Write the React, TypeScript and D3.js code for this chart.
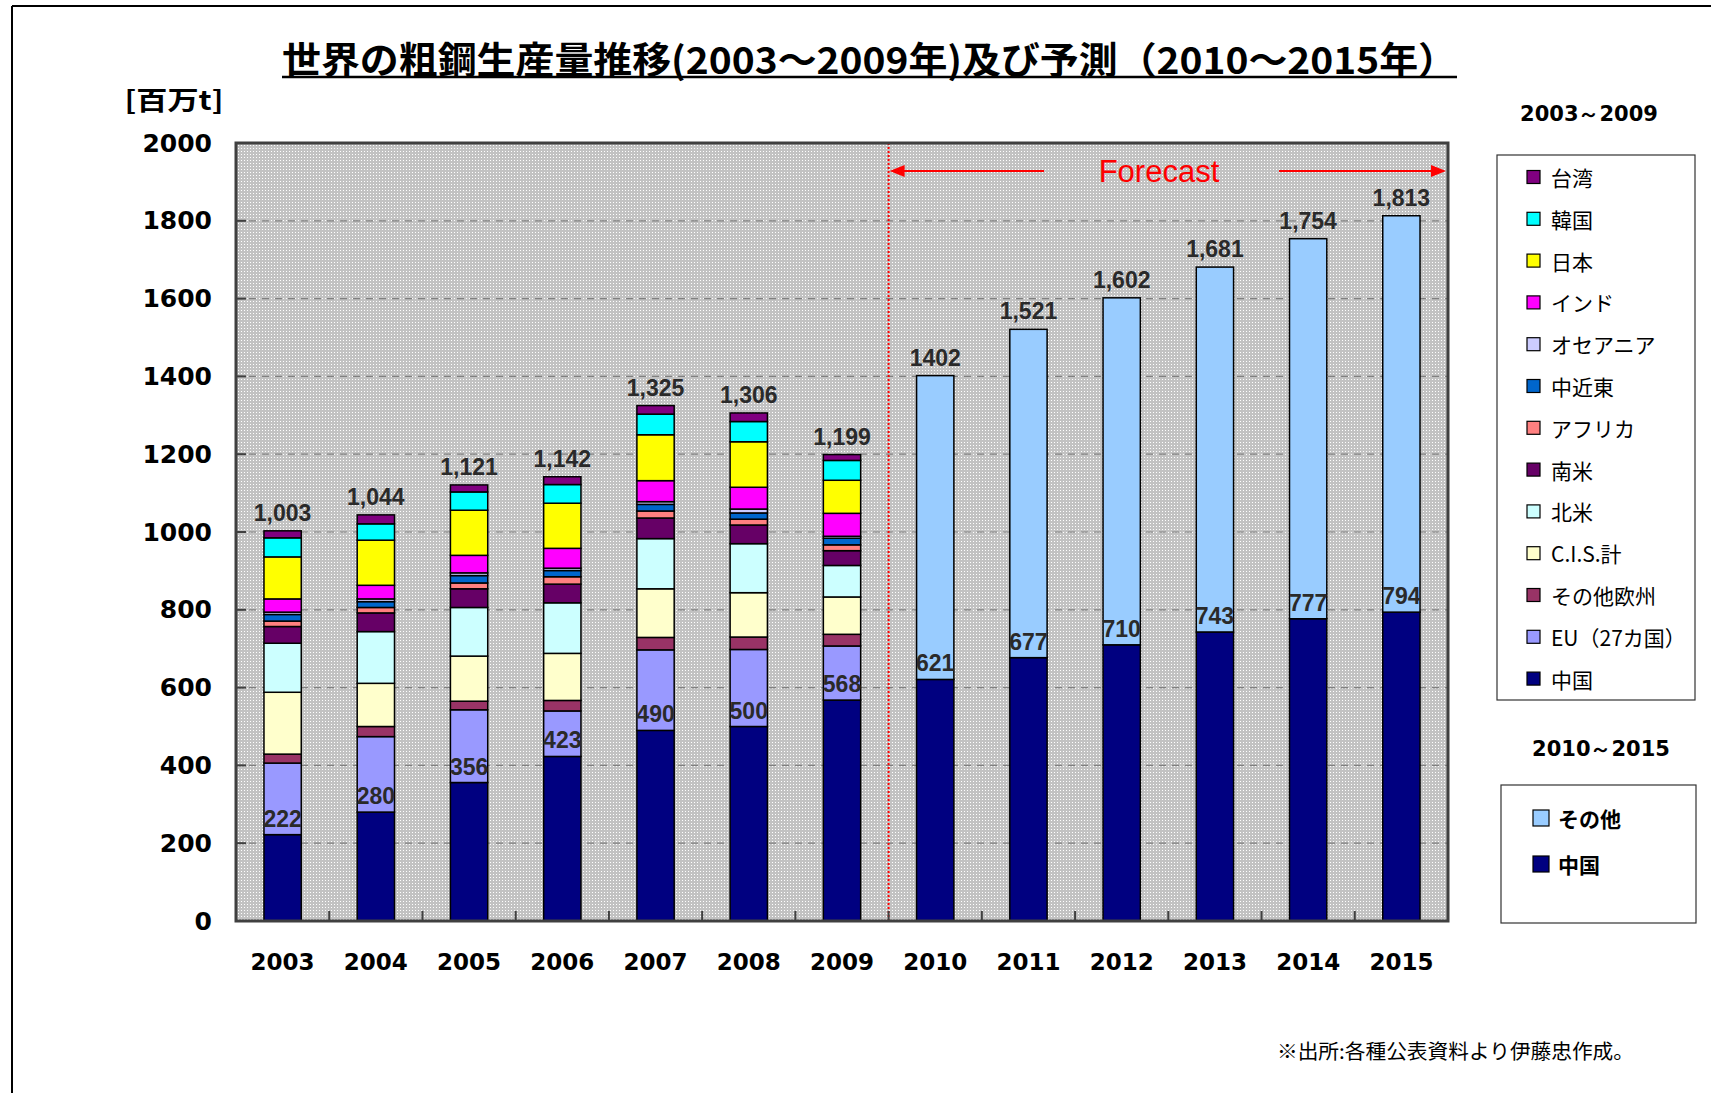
import React from 'react';
import * as d3 from 'd3';

// ---- data ----
const years = ['2003', '2004', '2005', '2006', '2007', '2008', '2009', '2010', '2011', '2012', '2013', '2014', '2015'];
const histYears = ['2003', '2004', '2005', '2006', '2007', '2008', '2009'];
const forecastYears = ['2010', '2011', '2012', '2013', '2014', '2015'];

// 2003-2009 stacked (bottom → top)
const china = [222, 280, 356, 423, 490, 500, 568];
const eu27 = [184, 194, 187, 117, 207, 198, 139];
const otherEurope = [23, 26, 22, 27, 32, 32, 30];
const cis = [159, 111, 116, 121, 125, 114, 96];
const northAmerica = [126, 133, 125, 130, 129, 126, 81];
const southAmerica = [43, 48, 48, 48, 53, 48, 38];
const africa = [14, 14, 15, 19, 18, 15, 15];
const middleEast = [17, 15, 19, 16, 17, 16, 17];
const oceania = [6, 7, 7, 6, 7, 10, 5];
const india = [34, 35, 45, 51, 54, 56, 59];
const japan = [108, 116, 116, 116, 118, 117, 85];
const korea = [49, 42, 47, 48, 53, 52, 51];
const taiwan = [18, 23, 18, 20, 22, 22, 15];

// 2010-2015 forecast
const forecastChina = [621, 677, 710, 743, 777, 794];
const forecastTotal = [1402, 1521, 1602, 1681, 1754, 1813];

const totalLabels = ['1,003', '1,044', '1,121', '1,142', '1,325', '1,306', '1,199', '1402', '1,521', '1,602', '1,681', '1,754', '1,813'];
const chinaLabels = ['222', '280', '356', '423', '490', '500', '568', '621', '677', '710', '743', '777', '794'];
const yTicks = [0, 200, 400, 600, 800, 1000, 1200, 1400, 1600, 1800, 2000];

const histKeys = ['中国', 'EU（27カ国）', 'その他欧州', 'C.I.S.計', '北米', '南米', 'アフリカ', '中近東', 'オセアニア', 'インド', '日本', '韓国', '台湾'];
const histSeries = [china, eu27, otherEurope, cis, northAmerica, southAmerica, africa, middleEast, oceania, india, japan, korea, taiwan];
const histColors = ['#000080', '#9999FF', '#993366', '#FFFFCC', '#CCFFFF', '#660066', '#FF8080', '#0066CC', '#CCCCFF', '#FF00FF', '#FFFF00', '#00FFFF', '#800080'];

const fcKeys = ['中国', 'その他'];
const fcColors = ['#000080', '#99CCFF'];

const TITLE = '世界の粗鋼生産量推移(2003～2009年)及び予測（2010～2015年）';

export default function App() {
  const W = 1711, H = 1093;
  const left = 236, right = 1448, top = 143, bottom = 921;
  const x = d3.scaleBand<string>().domain(years).range([left, right]).padding(0);
  const y = d3.scaleLinear().domain([0, 2000]).range([bottom, top]);
  const bw = x.bandwidth();
  const barW = bw * 0.4;
  const bx = (yr: string) => (x(yr) as number) + (bw - barW) / 2;
  const cx = (yr: string) => (x(yr) as number) + bw / 2;

  const histRows = histYears.map((yr, i) => {
    const r: any = { year: yr };
    histKeys.forEach((k, j) => (r[k] = histSeries[j][i]));
    return r;
  });
  const histStack = d3.stack<any>().keys(histKeys)(histRows);

  const fcRows = forecastYears.map((yr, i) => ({ year: yr, '中国': forecastChina[i], 'その他': forecastTotal[i] - forecastChina[i] }));
  const fcStack = d3.stack<any>().keys(fcKeys)(fcRows as any);

  const totals = [...histYears.map((_, i) => histSeries.reduce((s, a) => s + a[i], 0)), ...forecastTotal];
  const chinaAll = [...china, ...forecastChina];

  const divX = x('2010') as number;
  const arrowY = 171;
  const numFont = '"DejaVu Sans", sans-serif';
  const lblFont = '"Liberation Sans", Arial, sans-serif';
  const jpFont = '"Noto Sans CJK JP", sans-serif';

  const legend1 = histKeys.map((k, i) => ({ k, c: histColors[i] })).reverse();
  const legend2 = fcKeys.map((k, i) => ({ k, c: fcColors[i] })).reverse();

  return (
    <svg width={W} height={H} style={{ position: 'absolute', left: 0, top: 0, background: '#fff' }}>
      <defs>
        <pattern id="dots" width={3} height={3} patternUnits="userSpaceOnUse">
          <rect width={3} height={3} fill="#c2c2c2" />
          <rect x={1} y={1} width={1} height={1} fill="#ffffff" />
        </pattern>
      </defs>
      {/* page frame */}
      <line x1={12} y1={6} x2={W} y2={6} stroke="#000" strokeWidth={2} />
      <line x1={12} y1={6} x2={12} y2={H} stroke="#000" strokeWidth={2} />

      {/* title */}
      <text x={(282 + 1457) / 2} y={58} textAnchor="middle" dominantBaseline="central" fontFamily={jpFont} fontWeight="bold" fontSize={37} textLength={1175} lengthAdjust="spacingAndGlyphs" fill="#000">{TITLE}</text>
      <line x1={282} x2={1457} y1={77} y2={77} stroke="#000" strokeWidth={2.5} />
      <text x={174} y={98} textAnchor="middle" dominantBaseline="central" fontFamily={jpFont} fontWeight="bold" fontSize={26} textLength={99} lengthAdjust="spacingAndGlyphs" fill="#000">[百万t]</text>

      {/* plot background */}
      <rect x={left} y={top} width={right - left} height={bottom - top} fill="url(#dots)" />
      {yTicks.filter(v => v > 0 && v < 2000).map(v => (
        <line key={'g' + v} x1={left} x2={right} y1={y(v)} y2={y(v)} stroke="#808080" strokeWidth={1.2} strokeDasharray="7,6" />
      ))}

      {/* historical stacked bars */}
      {histStack.map((s, si) => (
        <g key={'h' + si} fill={histColors[si]} stroke="#000" strokeWidth={1.5}>
          {s.map((d: any) => (
            <rect key={d.data.year} x={bx(d.data.year)} y={y(d[1])} width={barW} height={y(d[0]) - y(d[1])} />
          ))}
        </g>
      ))}
      {/* forecast stacked bars */}
      {fcStack.map((s, si) => (
        <g key={'f' + si} fill={fcColors[si]} stroke="#000" strokeWidth={1.5}>
          {s.map((d: any) => (
            <rect key={d.data.year} x={bx(d.data.year)} y={y(d[1])} width={barW} height={y(d[0]) - y(d[1])} />
          ))}
        </g>
      ))}

      {/* forecast divider */}
      <line x1={divX} x2={divX} y1={top} y2={bottom} stroke="#ff0000" strokeWidth={2} strokeDasharray="2,2" />
      <line x1={divX + 14} x2={1044} y1={arrowY} y2={arrowY} stroke="#ff0000" strokeWidth={2} />
      <path d={`M${divX + 1},${arrowY} L${divX + 16},${arrowY - 6} L${divX + 16},${arrowY + 6} Z`} fill="#ff0000" />
      <line x1={1279} x2={right - 14} y1={arrowY} y2={arrowY} stroke="#ff0000" strokeWidth={2} />
      <path d={`M${right - 2},${arrowY} L${right - 17},${arrowY - 6} L${right - 17},${arrowY + 6} Z`} fill="#ff0000" />
      <text x={1159} y={arrowY} textAnchor="middle" dominantBaseline="central" fontFamily={lblFont} fontSize={31} fill="#ff0000">Forecast</text>

      {/* ticks */}
      {yTicks.map(v => (
        <line key={'yt' + v} x1={left} x2={left + 10} y1={y(v)} y2={y(v)} stroke="#404040" strokeWidth={2} />
      ))}
      {years.slice(1).map(yr => (
        <line key={'xt' + yr} x1={x(yr) as number} x2={x(yr) as number} y1={bottom} y2={bottom - 10} stroke="#404040" strokeWidth={2} />
      ))}
      {/* plot border */}
      <rect x={left} y={top} width={right - left} height={bottom - top} fill="none" stroke="#404040" strokeWidth={3} />

      {/* axis labels */}
      {yTicks.map(v => (
        <text key={'yl' + v} x={212} y={y(v)} textAnchor="end" dominantBaseline="central" fontFamily={numFont} fontWeight="bold" fontSize={25} fill="#000">{v}</text>
      ))}
      {years.map(yr => (
        <text key={'xl' + yr} x={cx(yr)} y={962} textAnchor="middle" dominantBaseline="central" fontFamily={numFont} fontWeight="bold" fontSize={23} fill="#000">{yr}</text>
      ))}

      {/* value labels */}
      {years.map((yr, i) => (
        <text key={'tl' + yr} x={cx(yr)} y={y(totals[i]) - 10} textAnchor="middle" fontFamily={lblFont} fontWeight="bold" fontSize={23} fill="#2a2a2a">{totalLabels[i]}</text>
      ))}
      {years.map((yr, i) => (
        <text key={'cl' + yr} x={cx(yr)} y={y(chinaAll[i]) - 8} textAnchor="middle" fontFamily={lblFont} fontWeight="bold" fontSize={23} fill="#2a2a2a">{chinaLabels[i]}</text>
      ))}

      {/* legend 1 */}
      <text x={1589} y={114} textAnchor="middle" dominantBaseline="central" fontFamily={numFont} fontWeight="bold" fontSize={21} fill="#000">2003～2009</text>
      <rect x={1497} y={155} width={198} height={545} fill="#fff" stroke="#333" strokeWidth={1.2} />
      {legend1.map((d, i) => {
        const ly = 177 + i * 41.8;
        return (
          <g key={'l1' + d.k}>
            <rect x={1527} y={ly - 6.5} width={13} height={13} fill={d.c} stroke="#000" strokeWidth={1.2} />
            <text x={1551} y={ly} dominantBaseline="central" fontFamily={jpFont} fontSize={21} fill="#000">{d.k}</text>
          </g>
        );
      })}

      {/* legend 2 */}
      <text x={1601} y={749} textAnchor="middle" dominantBaseline="central" fontFamily={numFont} fontWeight="bold" fontSize={21} fill="#000">2010～2015</text>
      <rect x={1501} y={785} width={195} height={138} fill="#fff" stroke="#333" strokeWidth={1.2} />
      {legend2.map((d, i) => {
        const ly = 818 + i * 46;
        return (
          <g key={'l2' + d.k}>
            <rect x={1533} y={ly - 8} width={16} height={16} fill={d.c} stroke="#000" strokeWidth={1.2} />
            <text x={1558} y={ly} dominantBaseline="central" fontFamily={jpFont} fontWeight="bold" fontSize={21} fill="#000">{d.k}</text>
          </g>
        );
      })}

      {/* source */}
      <text x={1277} y={1050} dominantBaseline="central" fontFamily={jpFont} fontSize={20} textLength={357} lengthAdjust="spacingAndGlyphs" fill="#000">※出所:各種公表資料より伊藤忠作成。</text>
    </svg>
  );
}
